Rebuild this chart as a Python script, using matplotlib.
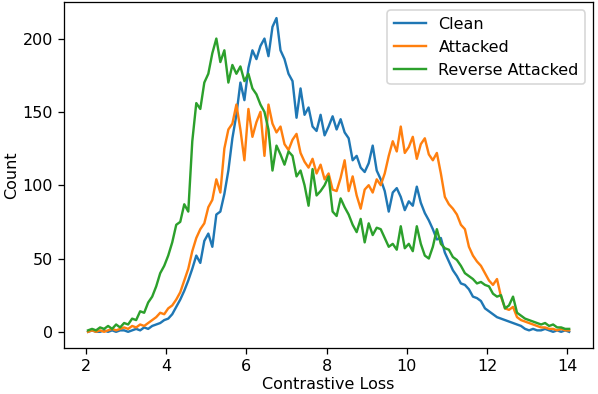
import numpy as np
import matplotlib
matplotlib.use("Agg")
import matplotlib.pyplot as plt

# bin centres of the loss histogram
loss_start, loss_step, n_bins = 2.05, 0.1, 121

clean = [0, 1, 0, 0, 1, 0, 1, 0, 1, 1,
         0, 1, 2, 1, 3, 2, 4, 5, 6, 8,
         9, 12, 17, 22, 28, 35, 43, 52, 47, 62,
         67, 58, 80, 82, 94, 110, 132, 148, 170, 158,
         180, 192, 186, 195, 200, 188, 208, 214, 192, 186,
         176, 171, 146, 166, 148, 153, 140, 137, 148, 134,
         140, 147, 138, 145, 136, 132, 117, 120, 112, 109,
         115, 127, 110, 104, 96, 82, 95, 98, 92, 83,
         89, 86, 99, 88, 81, 76, 70, 63, 64, 54,
         48, 42, 38, 33, 32, 29, 24, 23, 21, 16,
         14, 12, 10, 9, 8, 7, 6, 5, 4, 2,
         1, 2, 1, 1, 2, 1, 0, 1, 0, 1,
         0]

attacked = [0, 1, 0, 1, 0, 1, 2, 1, 2, 3,
            2, 4, 3, 5, 4, 6, 8, 10, 13, 12,
            16, 18, 22, 27, 35, 43, 55, 64, 70, 74,
            85, 90, 104, 95, 125, 138, 142, 155, 138, 117,
            152, 133, 143, 150, 120, 155, 142, 136, 140, 128,
            124, 131, 135, 122, 116, 112, 118, 108, 114, 104,
            108, 97, 96, 105, 117, 96, 106, 93, 84, 97,
            100, 95, 104, 100, 108, 120, 130, 123, 140, 122,
            126, 133, 118, 128, 132, 121, 117, 122, 108, 92,
            87, 84, 80, 73, 70, 58, 52, 48, 45, 40,
            35, 32, 36, 24, 16, 15, 17, 10, 8, 7,
            6, 5, 4, 3, 3, 2, 2, 1, 2, 1,
            1]

reverse_attacked = [1, 2, 1, 3, 2, 4, 2, 5, 3, 6,
                    5, 9, 8, 14, 13, 20, 24, 31, 40, 45,
                    52, 61, 73, 75, 87, 82, 130, 156, 152, 170,
                    176, 190, 200, 184, 192, 170, 182, 176, 181, 171,
                    176, 166, 162, 155, 150, 138, 110, 127, 121, 114,
                    123, 120, 106, 110, 100, 86, 111, 93, 96, 100,
                    106, 82, 79, 91, 85, 80, 73, 68, 77, 61,
                    74, 66, 71, 70, 64, 58, 60, 56, 72, 57,
                    60, 55, 72, 60, 52, 50, 58, 70, 60, 57,
                    56, 51, 49, 45, 40, 38, 36, 33, 34, 32,
                    31, 26, 24, 25, 16, 18, 24, 13, 11, 9,
                    8, 7, 6, 5, 6, 4, 5, 3, 3, 2,
                    2]

series = {"Clean": clean, "Attacked": attacked, "Reverse Attacked": reverse_attacked}

x = loss_start + loss_step * np.arange(n_bins)

# original was rendered larger and scaled down, so use a higher dpi
dpi = 115
fig = plt.figure(figsize=(598 / dpi, 394 / dpi), dpi=dpi)
ax = fig.add_subplot(111)
for name, counts in series.items():
    ax.plot(x, counts, label=name)

ax.set_xlabel("Contrastive Loss", labelpad=2)
ax.set_ylabel("Count", labelpad=2)
ax.set_xticks([2, 4, 6, 8, 10, 12, 14])
ax.set_yticks([0, 50, 100, 150, 200])
ax.legend(loc="upper right")

fig.subplots_adjust(left=0.107, right=0.992, top=0.994, bottom=0.118)
fig.savefig("out.png", dpi=dpi)
